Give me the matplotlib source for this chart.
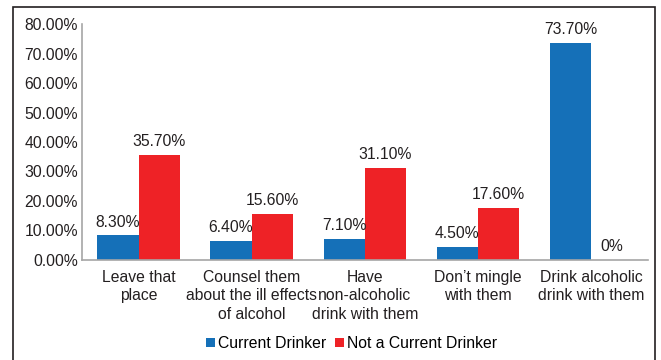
import matplotlib
matplotlib.use("Agg")
import matplotlib.pyplot as plt
from matplotlib.patches import Rectangle
import numpy as np

plt.rcParams['font.family'] = ['Liberation Sans', 'DejaVu Sans']

categories = ["Leave that\nplace",
              "Counsel them\nabout the ill effects\nof alcohol",
              "Have\nnon-alcoholic\ndrink with them",
              "Don\u2019t mingle\nwith them",
              "Drink alcoholic\ndrink with them"]
current = [8.3, 6.4, 7.1, 4.5, 73.7]
not_current = [35.7, 15.6, 31.1, 17.6, 0.0]

blue = "#1570b8"
red = "#ee2226"
grey = "#a6a6a6"
fs = 11.3

fig = plt.figure(figsize=(6.61, 3.60), dpi=100)
ax = fig.add_axes([0.124, 0.278, 0.856, 0.655])

x = np.arange(len(categories))
w = 0.365
b1 = ax.bar(x - w / 2, current, w, color=blue, label="Current Drinker")
b2 = ax.bar(x + w / 2, not_current, w, color=red, label="Not a Current Drinker")

def fmt(v):
    return "0%" if v == 0 else f"{v:.2f}%"

for bars, vals in ((b1, current), (b2, not_current)):
    for bar, v in zip(bars, vals):
        ax.text(bar.get_x() + bar.get_width() / 2, v + 2.0, fmt(v),
                ha="center", va="bottom", fontsize=fs, color="#231f20")

ax.set_xlim(-0.5, len(categories) - 0.5)
ax.set_ylim(0, 80)
ax.set_yticks(np.arange(0, 81, 10))
ax.set_yticklabels([f"{t:.2f}%" for t in np.arange(0, 81, 10)])
ax.set_xticks(x)
ax.set_xticklabels(categories, linespacing=1.3)
ax.tick_params(axis="both", length=0, labelsize=fs, colors="#231f20")
ax.tick_params(axis="x", pad=7)
ax.tick_params(axis="y", pad=3)

for s in ("top", "right"):
    ax.spines[s].set_visible(False)
for s in ("left", "bottom"):
    ax.spines[s].set_color(grey)
    ax.spines[s].set_linewidth(1.2)

fig.legend(handles=[b1, b2], loc="center", bbox_to_anchor=(0.532, 0.045),
           ncol=2, frameon=False, fontsize=fs, handlelength=0.55,
           handleheight=0.55, handletextpad=0.2, columnspacing=0.6)

# outer border around the chart
fig.add_artist(Rectangle((0.0197, -0.05), 0.971, 1.031, transform=fig.transFigure,
                         fill=False, edgecolor="#231f20", linewidth=1.2,
                         clip_on=False))

fig.savefig("out.png", dpi=100)
